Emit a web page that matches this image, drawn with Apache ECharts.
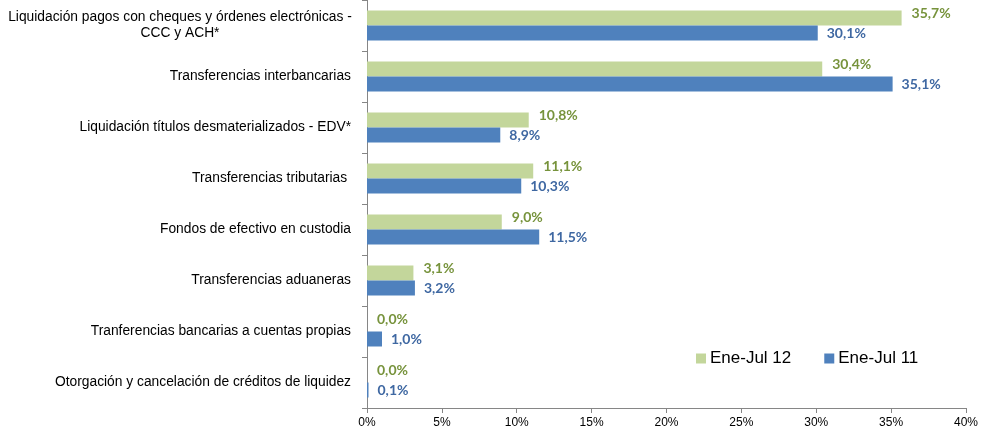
<!DOCTYPE html>
<html>
<head>
<meta charset="utf-8">
<script src="https://cdn.jsdelivr.net/npm/echarts@6/dist/echarts.min.js"></script>
<style>html,body{margin:0;padding:0;background:#fff;}#c{width:981px;height:434px;}</style>
</head>
<body>
<div id="c"></div>
<script>
const categories = [
  "Liquidación pagos con cheques y órdenes electrónicas -\nCCC y ACH*",
  "Transferencias interbancarias",
  "Liquidación títulos desmaterializados - EDV*",
  "Transferencias tributarias ",
  "Fondos de efectivo en custodia",
  "Transferencias aduaneras",
  "Tranferencias bancarias a cuentas propias",
  "Otorgación y cancelación de créditos de liquidez"
];
const seriesNames = ["Ene-Jul 12", "Ene-Jul 11"];
const valuesJul12 = [35.7, 30.4, 10.8, 11.1, 9.0, 3.1, 0.0, 0.0];
const valuesJul11 = [30.1, 35.1, 8.9, 10.3, 11.5, 3.2, 1.0, 0.1];
const xTicks = [0, 5, 10, 15, 20, 25, 30, 35, 40];

const chart = echarts.init(document.getElementById('c'), null, {renderer: 'canvas'});
const fmt = v => v.toFixed(1).replace('.', ',') + '%';
const option = {
  animation: false,
  backgroundColor: '#fff',
  grid: {left: 367, top: 0, width: 600, height: 408, containLabel: false},
  legend: {
    left: 691, top: 345,
    itemWidth: 10, itemHeight: 10, itemGap: 33,
    icon: 'rect',
    textStyle: {fontFamily: 'Liberation Sans', fontSize: 17, color: '#000', padding: [0,0,0,-1]},
    data: seriesNames
  },
  xAxis: {
    type: 'value',
    min: xTicks[0], max: xTicks[xTicks.length-1], interval: 5,
    axisLine: {show: true, lineStyle: {color: '#868686'}},
    axisTick: {show: true, length: 5, lineStyle: {color: '#868686'}},
    splitLine: {show: false},
    axisLabel: {formatter: '{value}%', fontFamily: 'Liberation Sans', fontSize: 12, color: '#000', margin: 9}
  },
  yAxis: {
    type: 'category',
    inverse: true,
    data: categories,
    axisLine: {show: true, lineStyle: {color: '#868686'}},
    axisTick: {show: true, length: 5, lineStyle: {color: '#868686'}},
    axisLabel: {
      fontFamily: 'Liberation Sans', fontSize: 13.8, color: '#000', margin: 16, lineHeight: 16,
      formatter: function (v) {
        if (v.indexOf('\n') >= 0) {
          return v.split('\n').map(s => '{c|' + s + '}').join('\n');
        }
        return v;
      },
      rich: {c: {width: 342, align: 'center', fontFamily: 'Liberation Sans', fontSize: 13.8, color: '#000', lineHeight: 16}}
    }
  },
  series: [
    {
      name: seriesNames[0], type: 'bar', data: valuesJul12,
      barWidth: 15, barGap: '0%',
      itemStyle: {color: '#C3D69B'},
      label: {show: true, position: 'right', distance: 10, offset: [0, -5], formatter: p => fmt(p.value),
        fontFamily: 'Lato', fontWeight: 'bold', fontSize: 14, color: '#77933C'}
    },
    {
      name: seriesNames[1], type: 'bar', data: valuesJul11,
      barWidth: 15, barGap: '0%',
      itemStyle: {color: '#4F81BD'},
      label: {show: true, position: 'right', distance: 9, formatter: p => fmt(p.value),
        fontFamily: 'Lato', fontWeight: 'bold', fontSize: 14, color: '#3F68A2'}
    }
  ]
};
chart.setOption(option);
</script>
</body>
</html>
